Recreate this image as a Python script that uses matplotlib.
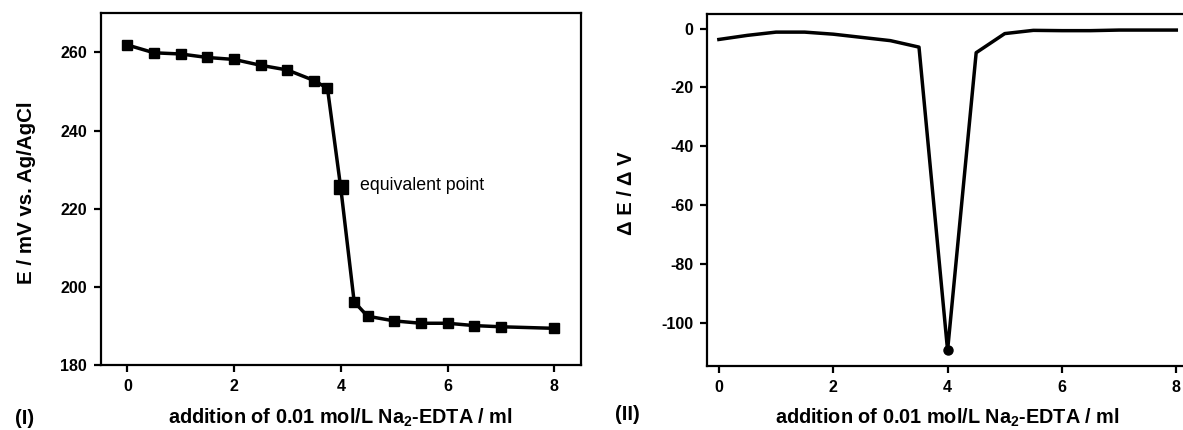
import matplotlib
matplotlib.use("Agg")
import matplotlib.pyplot as plt

# titration curve (I)
vol = [0, 0.5, 1, 1.5, 2, 2.5, 3, 3.5, 3.75, 4, 4.25, 4.5, 5, 5.5, 6, 6.5, 7, 8]
potential = [261.9, 259.9, 259.6, 258.7, 258.2, 256.7, 255.5, 252.8, 250.8,
             225.2, 196.2, 192.5, 191.3, 190.7, 190.7, 190.1, 189.8, 189.4]
eq_vol = 4
eq_potential = 225.5

# first derivative (II)
vol_d = [0, 0.5, 1, 1.5, 2, 2.5, 3, 3.5, 4, 4.5, 5, 5.5, 6, 6.5, 7, 8]
deriv = [-3.7, -2.3, -1.2, -1.2, -1.9, -3.0, -4.1, -6.3, -109.5, -8.2,
         -1.7, -0.6, -0.7, -0.7, -0.5, -0.5]
min_vol = 4
min_deriv = -109.5

plt.rcParams["font.family"] = ["Liberation Sans", "DejaVu Sans"]
plt.rcParams["font.weight"] = "bold"
plt.rcParams["axes.labelweight"] = "bold"
plt.rcParams["mathtext.default"] = "regular"
plt.rcParams["axes.unicode_minus"] = False

xlabel = "addition of 0.01 mol/L Na$_2$-EDTA / ml"


def style_axis(ax):
    for sp in ax.spines.values():
        sp.set_linewidth(1.6)
    ax.tick_params(direction="out", length=5, width=1.6, pad=5, labelsize=11.5)


fig = plt.figure(figsize=(11.83, 4.30), dpi=100)

ax1 = fig.add_axes([0.0851, 0.151, 0.406, 0.818])
ax1.plot(vol, potential, color="black", lw=2.5, marker="s", ms=6.5)
ax1.plot([eq_vol], [eq_potential], color="black", marker="s", ms=9.5, ls="none")
ax1.text(4.35, 226, "equivalent point", fontweight="normal", fontsize=12.8,
         va="center", ha="left")
ax1.set_xlim(-0.5, 8.5)
ax1.set_ylim(180, 270)
ax1.set_xticks([0, 2, 4, 6, 8])
ax1.set_yticks([180, 200, 220, 240, 260])
style_axis(ax1)
ax1.set_ylabel("E / mV vs. Ag/AgCl", fontsize=14.8)
ax1.yaxis.set_label_coords(-0.135, 0.49)
ax1.set_xlabel(xlabel, fontsize=14.3, labelpad=9)

ax2 = fig.add_axes([0.598, 0.1495, 0.406, 0.8175])
ax2.plot(vol_d, deriv, color="black", lw=2.5)
ax2.plot([min_vol], [min_deriv], color="black", marker="o", ms=6.5, ls="none")
ax2.set_xlim(-0.2, 8.2)
ax2.set_ylim(-114.7, 4.9)
ax2.set_xticks([0, 2, 4, 6, 8])
ax2.set_yticks([-100, -80, -60, -40, -20, 0])
style_axis(ax2)
ax2.set_ylabel("Δ E / Δ V", fontsize=14.5)
ax2.yaxis.set_label_coords(-0.1485, 0.49)
ax2.set_xlabel(xlabel, fontsize=14.3, labelpad=9)

fig.text(15 / 1183, 1 - 418 / 430, "(I)", fontsize=14.5, ha="left", va="center")
fig.text(615 / 1183, 1 - 415 / 430, "(II)", fontsize=14.5, ha="left", va="center")

fig.savefig("out.png", dpi=100)
